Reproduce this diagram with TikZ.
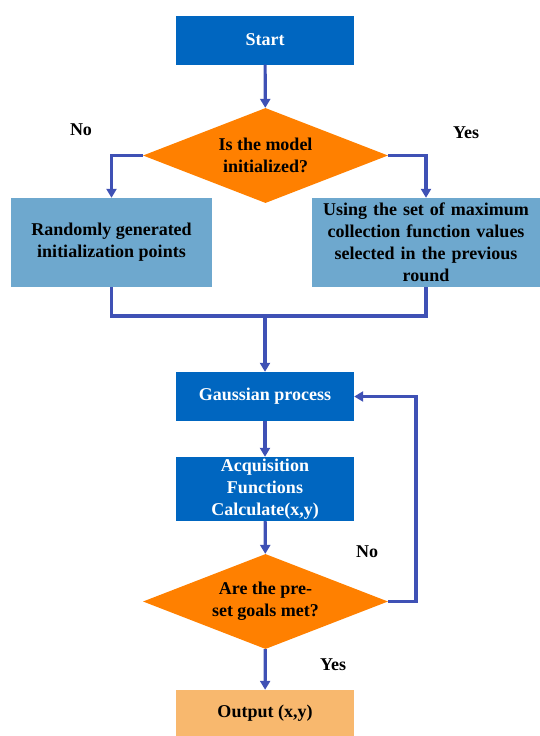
\documentclass[tikz,border=0pt]{standalone}
\usepackage{fontspec}
\setmainfont{Liberation Serif}[BoldFont={Liberation Serif Bold}]
\usetikzlibrary{shapes.geometric,arrows.meta}
\definecolor{darkblue}{RGB}{0,102,192}
\definecolor{lightblue}{RGB}{110,168,206}
\definecolor{orng}{RGB}{255,128,0}
\definecolor{outorange}{RGB}{248,184,110}
\definecolor{arrowblue}{RGB}{63,81,181}
\tikzset{
  every node/.style={font=\rmfamily\bfseries\fontsize{18}{22}\selectfont, inner sep=0pt},
  darkbox/.style={rectangle, fill=darkblue, text=white, align=center},
  lightbox/.style={rectangle, fill=lightblue, text=black, align=center},
  decision/.style={diamond, fill=orng, text=black, align=center, aspect=2.5},
  outbox/.style={rectangle, fill=outorange, text=black, align=center},
  flow/.style={draw=arrowblue, line width=3.2pt, -{Triangle[length=9pt,width=10pt]}},
  flowline/.style={draw=arrowblue, line width=3.2pt},
  lbl/.style={text=black}
}
\begin{document}
\begin{tikzpicture}[x=1pt,y=-1pt]
\useasboundingbox (0,0) rectangle (540,736);
\node[darkbox, minimum width=178pt, minimum height=49pt] (start) at (265,40) {Start};
\node[decision, minimum width=245pt, minimum height=95pt] (d1) at (265.5,155.5) {Is the model\\initialized?};
\node[lightbox, minimum width=201pt, minimum height=89pt] (left) at (111.5,242.5) {Randomly generated\\initialization points};
\node[lightbox, minimum width=228pt, minimum height=89pt, text width=220pt] (right) at (426,242.5) {Using the set of maximum\\collection function values\\selected in the previous\\round};
\node[darkbox, minimum width=178pt, minimum height=49pt] (gp) at (265,396.5) {Gaussian process};
\node[darkbox, minimum width=178pt, minimum height=64pt] (acq) at (265,489) {Acquisition\\Functions\\Calculate(x,y)};
\node[decision, minimum width=245pt, minimum height=95pt] (d2) at (265.5,601.5) {Are the pre-\\set goals met?};
\node[outbox, minimum width=178pt, minimum height=47pt] (out) at (265,713.5) {Output (x,y)};
\node[lbl] (no1) at (81,130) {No};
\node[lbl] (yes1) at (466,133) {Yes};
\node[lbl] (no2) at (367,552) {No};
\node[lbl] (yes2) at (333,665) {Yes};
\coordinate (merge) at (265,316);
\coordinate (loopc) at (416,601.5);
\draw[flow] (start) -- (d1);
\draw[flow] (d1.west) -| (left.north);
\draw[flow] (d1.east) -| (right.north);
\draw[flowline] (left.south) |- (merge);
\draw[flowline] (right.south) |- (merge);
\draw[flow] (merge) -- (gp.north);
\draw[flow] (gp) -- (acq);
\draw[flow] (acq) -- (d2);
\draw[flow] (d2) -- (out);
\draw[flow] (d2.east) -- (loopc) |- (gp.east);
\end{tikzpicture}
\end{document}
